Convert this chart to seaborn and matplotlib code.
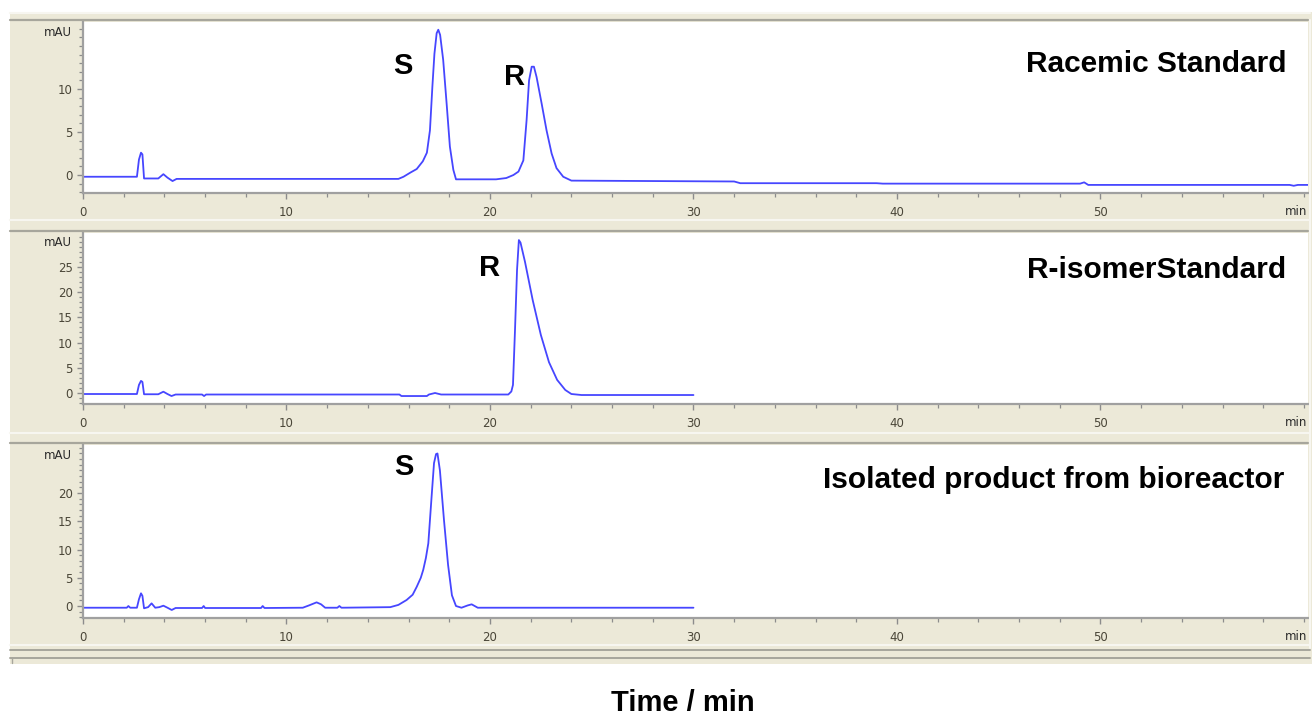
import matplotlib
matplotlib.use("Agg")
import matplotlib.pyplot as plt
from matplotlib.lines import Line2D
from matplotlib.patches import Rectangle
from matplotlib.ticker import MultipleLocator
import seaborn as sns

# ---- chromatogram traces (time in min, signal in mAU) ----
racemic_time = [0, 2.65, 2.75, 2.85, 2.92, 3.0, 3.7, 3.95, 4.15, 4.4, 4.6,
                15.5, 15.75, 16.1, 16.4, 16.7, 16.9, 17.05, 17.17, 17.27, 17.38, 17.46,
                17.55, 17.7, 17.87, 18.03, 18.2, 18.33,
                20.3, 20.8, 21.15, 21.4, 21.64, 21.8, 21.92, 22.05, 22.16, 22.29, 22.54,
                22.78, 23.03, 23.27, 23.6, 24.0,
                32.0, 32.3, 39.0, 39.3, 49.0, 49.2, 49.4, 59.3, 59.5, 59.7, 60.2]
racemic_mau = [-0.2, -0.2, 1.8, 2.6, 2.4, -0.4, -0.4, 0.1, -0.3, -0.7, -0.45,
               -0.45, -0.2, 0.3, 0.7, 1.6, 2.6, 5.2, 10.3, 14.1, 16.5, 16.9,
               16.3, 13.4, 8.3, 3.3, 0.6, -0.5,
               -0.5, -0.35, 0.0, 0.4, 1.7, 6.4, 11.0, 12.6, 12.6, 11.4, 8.3,
               5.2, 2.5, 0.8, -0.2, -0.65,
               -0.75, -0.95, -0.95, -1.0, -1.0, -0.85, -1.15, -1.15, -1.25, -1.15, -1.15]

r_isomer_time = [0, 2.65, 2.75, 2.85, 2.92, 3.0, 3.7, 3.95, 4.15, 4.35, 4.55,
                 5.85, 5.95, 6.05, 15.55, 15.65, 16.9, 17.0, 17.3, 17.6,
                 20.9, 21.05, 21.13, 21.23, 21.33, 21.42, 21.5, 21.72, 22.1, 22.5,
                 22.9, 23.3, 23.7, 24.0, 24.5, 30.0]
r_isomer_mau = [-0.2, -0.2, 1.6, 2.4, 2.2, -0.25, -0.25, 0.26, -0.2, -0.6, -0.3,
                -0.3, -0.6, -0.3, -0.3, -0.6, -0.6, -0.3, 0.0, -0.3,
                -0.3, 0.3, 1.6, 12.5, 24.4, 30.3, 29.8, 26.0, 18.4, 11.5,
                6.1, 2.6, 0.6, -0.2, -0.4, -0.4]

product_time = [0, 2.15, 2.23, 2.32, 2.65, 2.75, 2.85, 2.92, 3.0,
                3.2, 3.37, 3.55, 3.75, 3.95, 4.15, 4.36, 4.55,
                5.85, 5.93, 6.0, 8.75, 8.83, 8.92,
                10.8, 11.1, 11.48, 11.7, 11.9, 12.5, 12.6, 12.7,
                15.1, 15.5, 15.9, 16.2, 16.4, 16.6, 16.72, 16.85, 16.97, 17.13, 17.25,
                17.35, 17.42, 17.54, 17.74, 17.94, 18.13, 18.33,
                18.6, 18.9, 19.1, 19.4, 30.0]
product_mau = [-0.3, -0.3, 0.0, -0.3, -0.3, 1.2, 2.25, 1.8, -0.4,
               -0.2, 0.47, -0.3, -0.2, 0.06, -0.3, -0.7, -0.35,
               -0.35, 0.0, -0.35, -0.35, 0.0, -0.35,
               -0.3, 0.1, 0.65, 0.3, -0.3, -0.3, 0.0, -0.3,
               -0.2, 0.2, 1.06, 2.0, 3.4, 5.0, 6.4, 8.5, 11.1, 19.3, 25.3,
               26.9, 27.0, 24.0, 15.2, 7.3, 1.9, 0.0,
               -0.3, 0.1, 0.3, -0.3, -0.3]

panel_titles = ["Racemic Standard", "R-isomerStandard", "Isolated product from bioreactor"]
x_ticks = [0, 10, 20, 30, 40, 50]
y_ticks = [[0, 5, 10], [0, 5, 10, 15, 20, 25], [0, 5, 10, 15, 20]]
y_limits = [(-2.09, 17.8), (-2.18, 31.7), (-2.12, 28.5)]

# ---- figure layout in pixels ----
W, H = 1314, 717
sns.set_theme(style="white")
plt.rcParams["font.family"] = ["DejaVu Sans"]

fig = plt.figure(figsize=(W / 100, H / 100), dpi=100)
fig.patch.set_facecolor("white")


def fx(x):
    return x / W


def fy(y):
    return 1 - y / H


BEIGE = "#ECE9D8"
FRAME = "#A7A69C"
LIGHT = "#F7F6F0"
TRACE = "#4646FF"
TICKC = "#8C8C8C"
LABELC = "#4A4638"

# beige window background behind the three panels
fig.patches.append(Rectangle((fx(10), fy(664)), fx(1302), (664 - 12) / H,
                             transform=fig.transFigure, facecolor=BEIGE,
                             edgecolor="none", zorder=-5))


def hline(y, x0, x1, color, lw):
    fig.add_artist(Line2D([fx(x0), fx(x1)], [fy(y), fy(y)], transform=fig.transFigure,
                          color=color, lw=lw, zorder=1))


# panel geometry: (top of white area, x-axis line) in pixels
panels = [(22, 193), (233, 404), (445, 618)]
frame_tops = [20, 231, 443]
light_lines = [13, 220, 433]

for lt in light_lines:
    hline(lt, 10, 1310, LIGHT, 1.5)
for ft in frame_tops:
    hline(ft, 10, 1308, FRAME, 1.6)
hline(645, 10, 1310, LIGHT, 1.5)
hline(650, 10, 1310, FRAME, 1.4)
hline(658, 10, 1310, FRAME, 1.4)
fig.add_artist(Line2D([fx(12), fx(12)], [fy(658), fy(663)], transform=fig.transFigure,
                      color=FRAME, lw=1.0))
# light vertical border on the right side
fig.add_artist(Line2D([fx(1310), fx(1310)], [fy(20), fy(648)], transform=fig.transFigure,
                      color=LIGHT, lw=1.5))

traces = [(racemic_time, racemic_mau), (r_isomer_time, r_isomer_mau),
          (product_time, product_mau)]

x_left, x_right = 83, 1308
for i, ((top, bottom), (tt, vv)) in enumerate(zip(panels, traces)):
    ax = fig.add_axes([fx(x_left), fy(bottom), (x_right - x_left) / W, (bottom - top) / H])
    ax.set_facecolor("white")
    ax.patch.set_visible(True)
    sns.lineplot(x=tt, y=vv, ax=ax, color=TRACE, lw=1.3, estimator=None, sort=False)
    ax.set_xlim(0, 60.2)
    ax.set_ylim(*y_limits[i])
    for s in ["top", "right"]:
        ax.spines[s].set_visible(False)
    for s in ["left", "bottom"]:
        ax.spines[s].set_color("#A0A0A0")
        ax.spines[s].set_linewidth(1.6)
    ax.set_xticks(x_ticks)
    ax.set_yticks(y_ticks[i])
    ax.xaxis.set_minor_locator(MultipleLocator(2))
    ax.yaxis.set_minor_locator(MultipleLocator(1))
    ax.tick_params(axis="both", which="major", direction="out", length=4.5, width=1.0,
                   color=TICKC, labelsize=8.5, labelcolor=LABELC,
                   bottom=True, left=True, pad=3)
    ax.tick_params(axis="both", which="minor", direction="out", length=2.8, width=0.9,
                   color=TICKC, bottom=True, left=True)
    ax.tick_params(axis="x", which="major", pad=5)
    ax.set_xlabel("")
    ax.set_ylabel("")
    ax.grid(False)

    # unit labels at the ends of the axes
    fig.text(fx(72), fy(top + 10), "mAU", ha="right", va="center", fontsize=8.5,
             color="#2A2A2A")
    fig.text(fx(1307), fy(bottom + 18), "min", ha="right", va="center", fontsize=8.5,
             color="#2A2A2A")

bold = dict(fontfamily="Liberation Sans", fontweight="bold", color="black")

# panel titles
fig.text(fx(1286), fy(64), panel_titles[0], ha="right", va="center", fontsize=21.5, **bold)
fig.text(fx(1286), fy(270), panel_titles[1], ha="right", va="center", fontsize=21.5, **bold)
fig.text(fx(1284), fy(480), panel_titles[2], ha="right", va="center", fontsize=21.5, **bold)

# enantiomer peak labels
fig.text(fx(403), fy(66), "S", ha="center", va="center", fontsize=21, **bold)
fig.text(fx(515), fy(77), "R", ha="center", va="center", fontsize=21, **bold)
fig.text(fx(490), fy(268), "R", ha="center", va="center", fontsize=21, **bold)
fig.text(fx(404), fy(467), "S", ha="center", va="center", fontsize=21, **bold)

# common time axis caption
fig.text(fx(683), fy(703), "Time / min", ha="center", va="center", fontsize=21, **bold)

fig.savefig("out.png", dpi=100, facecolor="white")
